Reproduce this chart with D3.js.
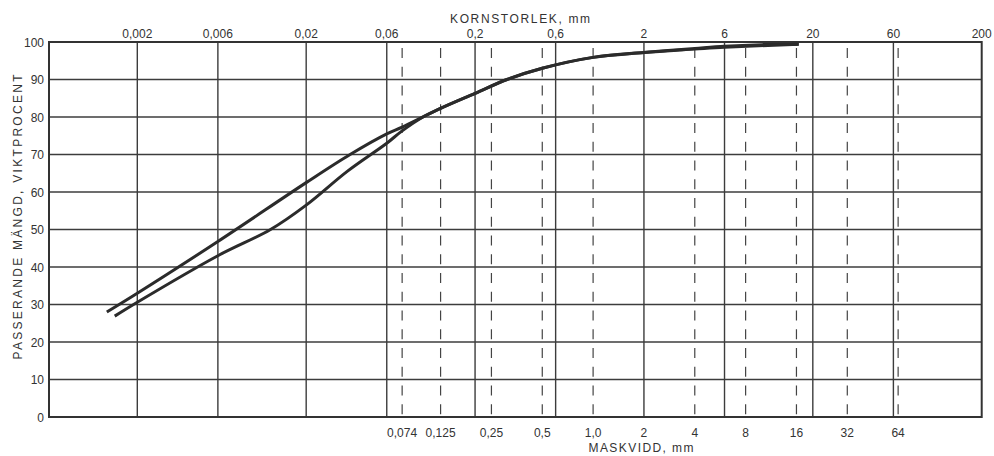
<!DOCTYPE html>
<html>
<head>
<meta charset="utf-8">
<script src="https://cdn.jsdelivr.net/npm/d3@7"></script>
<style>
  body { margin: 0; background: #fff; }
  text { font-family: "Liberation Sans", Arial, sans-serif; fill: #333; }
</style>
</head>
<body>
<div id="chart"></div>
<script>
// kornstorlek (top axis), mm
const kornTicks = [0.002, 0.006, 0.02, 0.06, 0.2, 0.6, 2, 6, 20, 60, 200]
const kornLabels = ["0,002", "0,006", "0,02", "0,06", "0,2", "0,6", "2", "6", "20", "60", "200"]

// maskvidd (bottom axis), mm
const maskTicks = [0.074, 0.125, 0.25, 0.5, 1.0, 2, 4, 8, 16, 32, 64]
const maskLabels = ["0,074", "0,125", "0,25", "0,5", "1,0", "2", "4", "8", "16", "32", "64"]

const yTicks = [0, 10, 20, 30, 40, 50, 60, 70, 80, 90, 100]

// siktkurvor
const sizesA   = [0.00132, 0.002, 0.006, 0.02, 0.0364, 0.06, 0.074, 0.125, 0.2, 0.309, 0.5, 1.0, 2, 4, 6, 16.5]
const percentA = [28.0,    33.0,  46.8,  62.5, 70.0,   75.5, 77.3,  82.3,  86.3, 90.0, 93.0, 95.9, 97.2, 98.1, 98.6, 99.4]

const sizesB   = [0.00147, 0.002, 0.006, 0.0123, 0.02, 0.035, 0.06, 0.074, 0.1, 0.125, 0.2, 0.309, 0.5, 1.0, 2, 4, 6, 10, 16.5]
const percentB = [26.9,    30.6,  43.0,  50.0,   56.5, 65.5,  73.0, 76.3,  80.2, 82.3, 86.3, 90.0, 93.0, 95.9, 97.2, 98.3, 98.9, 99.3, 99.4]

const dimensions = ({
  width: 994,
  height: 456,
  margin: { top: 42, right: 12.3, bottom: 39, left: 49 }
})
const innerW = dimensions.width - dimensions.margin.left - dimensions.margin.right
const innerH = dimensions.height - dimensions.margin.top - dimensions.margin.bottom

const x = d3.scaleLog()
  .domain([0.0006, 200])
  .range([0, innerW])

const y = d3.scaleLinear()
  .domain([0, 100])
  .range([innerH, 0])

const svg = d3.select("#chart")
  .append("svg")
    .attr("width", dimensions.width)
    .attr("height", dimensions.height)
  .append("g")
    .attr("transform", "translate(" + dimensions.margin.left + "," + dimensions.margin.top + ")")

// horisontella linjer
svg.append("g")
  .selectAll("line")
  .data(yTicks)
  .enter().append("line")
    .attr("x1", 0)
    .attr("x2", innerW)
    .attr("y1", d => y(d))
    .attr("y2", d => y(d))
    .attr("stroke", "#3c3c3c")
    .attr("stroke-width", 1.4)

// heldragna vertikala linjer (kornstorlek)
svg.append("g")
  .selectAll("line")
  .data(kornTicks.slice(0, -1))
  .enter().append("line")
    .attr("x1", d => x(d))
    .attr("x2", d => x(d))
    .attr("y1", 0)
    .attr("y2", innerH)
    .attr("stroke", "#3c3c3c")
    .attr("stroke-width", 1.4)

// streckade linjer (maskvidd), not where a solid line already sits
svg.append("g")
  .selectAll("line")
  .data(maskTicks.filter(d => kornTicks.indexOf(d) < 0))
  .enter().append("line")
    .attr("x1", d => x(d))
    .attr("x2", d => x(d))
    .attr("y1", 0)
    .attr("y2", innerH)
    .attr("stroke", "#444")
    .attr("stroke-width", 1.2)
    .attr("stroke-dasharray", "10,8.75")
    .attr("stroke-dashoffset", 12.75)

// ram
svg.append("rect")
  .attr("x", 0)
  .attr("y", 0)
  .attr("width", innerW)
  .attr("height", innerH)
  .attr("fill", "none")
  .attr("stroke", "#333")
  .attr("stroke-width", 2)

// kurvor
const line = d3.line()
  .x(d => x(d[0]))
  .y(d => y(d[1]))
  .curve(d3.curveCatmullRom.alpha(0.5))

const curves = [
  d3.zip(sizesA, percentA),
  d3.zip(sizesB, percentB)
]

svg.append("g")
  .selectAll("path")
  .data(curves)
  .enter().append("path")
    .attr("d", line)
    .attr("fill", "none")
    .attr("stroke", "#2b2b2b")
    .attr("stroke-width", 3)

// y-axel text
svg.append("g")
  .selectAll("text")
  .data(yTicks)
  .enter().append("text")
    .attr("x", -5)
    .attr("y", d => y(d) + 4.5)
    .attr("text-anchor", "end")
    .style("font-size", "12px")
    .text(d => d)

// övre etiketter
svg.append("g")
  .selectAll("text")
  .data(kornTicks)
  .enter().append("text")
    .attr("x", d => x(d))
    .attr("y", -4)
    .attr("text-anchor", "middle")
    .style("font-size", "12px")
    .text((d, i) => kornLabels[i])

// nedre etiketter
svg.append("g")
  .selectAll("text")
  .data(maskTicks)
  .enter().append("text")
    .attr("x", d => x(d))
    .attr("y", innerH + 20)
    .attr("text-anchor", "middle")
    .style("font-size", "12px")
    .text((d, i) => maskLabels[i])

// axeltitlar
svg.append("text")
  .attr("x", 520 - dimensions.margin.left)
  .attr("y", -19)
  .attr("text-anchor", "middle")
  .attr("textLength", 140)
  .attr("lengthAdjust", "spacing")
  .style("font-size", "12px")
  .text("KORNSTORLEK, mm")

svg.append("text")
  .attr("x", 641 - dimensions.margin.left)
  .attr("y", innerH + 35)
  .attr("text-anchor", "middle")
  .attr("textLength", 105)
  .attr("lengthAdjust", "spacing")
  .style("font-size", "12px")
  .text("MASKVIDD, mm")

svg.append("text")
  .attr("transform", "translate(" + (22 - dimensions.margin.left) + "," + (217 - dimensions.margin.top) + ") rotate(-90)")
  .attr("text-anchor", "middle")
  .attr("textLength", 285)
  .attr("lengthAdjust", "spacing")
  .style("font-size", "12px")
  .text("PASSERANDE MÄNGD, VIKTPROCENT")
</script>
</body>
</html>
